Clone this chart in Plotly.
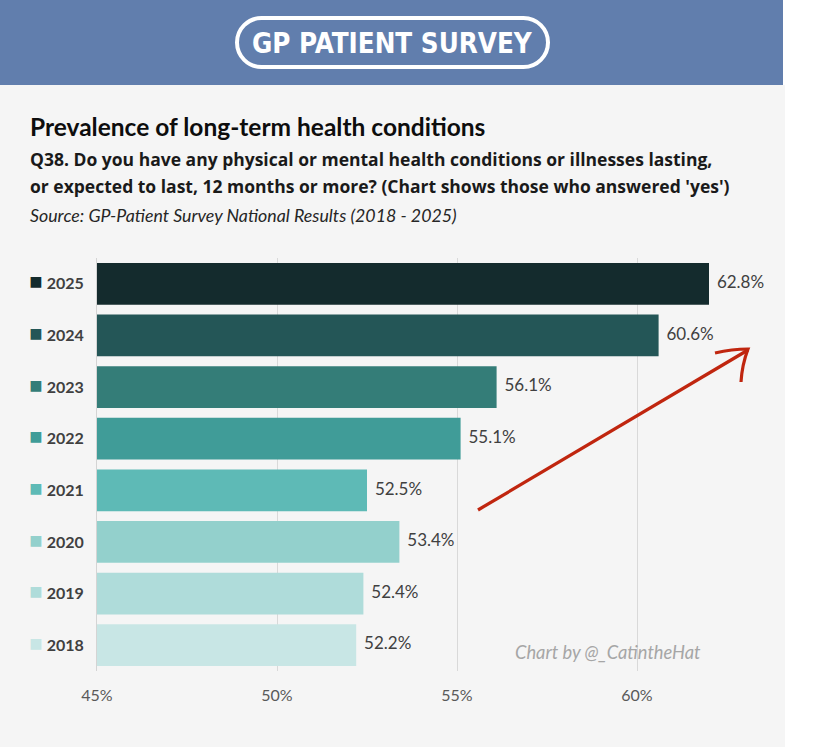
import numpy as np
import plotly.graph_objects as go

# ---- data ----
years = ["2018", "2019", "2020", "2021", "2022", "2023", "2024", "2025"]
values = [52.2, 52.4, 53.4, 52.5, 55.1, 56.1, 60.6, 62.8]
bar_colors = ["#c8e6e5", "#afdcda", "#93d0cc", "#5ebab6",
              "#409c98", "#347d78", "#245657", "#142b2d"]
x_ticks = [45, 50, 55, 60]
x_ticklabels = ["45%", "50%", "55%", "60%"]
X_MIN, X_MAX = 45, 62

labels = [f"{v:.1f}%" for v in values]

# ---- layout geometry (pixels) ----
W, H = 819, 747
ML, MR, MT, MB = 97, 110, 258, 76
PW = W - ML - MR
PH = H - MT - MB


def fx(px):
    return (px - ML) / PW


def fy(py):
    return (H - MB - py) / PH


fig = go.Figure()

fig.add_trace(go.Bar(
    x=values, y=years, orientation="h",
    marker=dict(color=bar_colors, line=dict(width=0)),
    hoverinfo="skip", showlegend=False,
))

fig.add_trace(go.Scatter(
    x=np.minimum(values, X_MAX), y=years,
    mode="markers+text", text=labels, textposition="middle right",
    marker=dict(size=11, opacity=0),
    textfont=dict(family="Lato, Open Sans, sans-serif", size=17, color="#404040"),
    cliponaxis=False, hoverinfo="skip", showlegend=False,
))

ticktext = [f'<span style="color:{c};font-size:22px">■</span> <b>{y}</b>'
            for y, c in zip(years, bar_colors)]

fig.update_layout(
    width=W, height=H,
    margin=dict(l=ML, r=MR, t=MT, b=MB, pad=0),
    paper_bgcolor="white",
    plot_bgcolor="rgba(0,0,0,0)",
    bargap=0.19,
    xaxis=dict(
        range=[X_MIN, X_MAX], tickvals=x_ticks, ticktext=x_ticklabels,
        showgrid=True, gridcolor="#d9d9d9", gridwidth=1, zeroline=False,
        ticks="outside", ticklen=10, tickcolor="rgba(0,0,0,0)",
        tickfont=dict(family="Lato, Open Sans, sans-serif", size=16, color="#595959"),
        fixedrange=True,
    ),
    yaxis=dict(
        categoryorder="array", categoryarray=years,
        range=[-0.5, len(years) - 0.5],
        tickvals=years, ticktext=ticktext,
        showline=True, linecolor="#d4d4d4", linewidth=1,
        showgrid=False, zeroline=False,
        ticks="outside", ticklen=9, tickcolor="rgba(0,0,0,0)",
        tickfont=dict(family="Lato, Open Sans, sans-serif", size=16, color="#404040"),
        fixedrange=True,
    ),
)

# ---- background panels ----
shapes = [
    dict(type="rect", xref="paper", yref="paper", layer="below",
         x0=fx(0), x1=fx(785), y0=fy(85), y1=fy(H), fillcolor="#f5f5f5",
         line=dict(width=0)),
    dict(type="rect", xref="paper", yref="paper", layer="below",
         x0=fx(0), x1=fx(783), y0=fy(0), y1=fy(85), fillcolor="#617ead",
         line=dict(width=0)),
]

# logo pill outline
L, R, T, B = 237, 548, 18, 67
r = (B - T) / 2
cy = (T + B) / 2
k = 0.5523 * r


def P(x, y):
    return f"{fx(x):.5f},{fy(y):.5f}"


pill = (f"M{P(L + r, T)} L{P(R - r, T)} "
        f"C{P(R - r + k, T)} {P(R, cy - k)} {P(R, cy)} "
        f"C{P(R, cy + k)} {P(R - r + k, B)} {P(R - r, B)} "
        f"L{P(L + r, B)} "
        f"C{P(L + r - k, B)} {P(L, cy + k)} {P(L, cy)} "
        f"C{P(L, cy - k)} {P(L + r - k, T)} {P(L + r, T)} Z")
shapes.append(dict(type="path", xref="paper", yref="paper", path=pill,
                   line=dict(color="white", width=4)))

# red hand-drawn arrow
red = "#c0260f"
shapes.append(dict(type="path", xref="paper", yref="paper",
                   path=f"M{P(478, 510)} Q{P(610, 432)} {P(748, 350)}",
                   line=dict(color=red, width=3.2)))
shapes.append(dict(type="path", xref="paper", yref="paper",
                   path=f"M{P(715, 353)} Q{P(732, 349)} {P(748, 349)} "
                        f"Q{P(742, 365)} {P(741, 382)}",
                   line=dict(color=red, width=3.2)))
fig.update_layout(shapes=shapes)

# ---- text annotations ----
ann = []
ann.append(dict(text="GP PATIENT SURVEY", x=fx(392), y=fy(43),
                xref="paper", yref="paper", showarrow=False,
                xanchor="center", yanchor="middle",
                font=dict(family="Liberation Sans Narrow, DejaVu Sans Condensed, Liberation Sans",
                          size=27.5, color="white", weight="bold")))
ann.append(dict(text="<b>Prevalence of long-term health conditions</b>",
                x=fx(28), y=fy(126), xref="paper", yref="paper", showarrow=False,
                xanchor="left", yanchor="middle",
                font=dict(family="Lato, Open Sans, sans-serif", size=24.5, color="#0d0d0d")))
ann.append(dict(text="<b>Q38. Do you have any physical or mental health conditions or illnesses lasting,</b>",
                x=fx(28), y=fy(159), xref="paper", yref="paper", showarrow=False,
                xanchor="left", yanchor="middle",
                font=dict(family="Open Sans, Lato, sans-serif", size=17.5, color="#1a1a1a")))
ann.append(dict(text="<b>or expected to last, 12 months or more? (Chart shows those who answered 'yes')</b>",
                x=fx(28), y=fy(186), xref="paper", yref="paper", showarrow=False,
                xanchor="left", yanchor="middle",
                font=dict(family="Open Sans, Lato, sans-serif", size=17.5, color="#1a1a1a")))
ann.append(dict(text="<i>Source: GP-Patient Survey National Results (2018 - 2025)</i>",
                x=fx(28), y=fy(215), xref="paper", yref="paper", showarrow=False,
                xanchor="left", yanchor="middle",
                font=dict(family="Lato, Open Sans, sans-serif", size=17.8, color="#262626")))
ann.append(dict(text="<i>Chart by @_CatintheHat</i>",
                x=fx(513), y=fy(652), xref="paper", yref="paper", showarrow=False,
                xanchor="left", yanchor="middle",
                font=dict(family="Lato, Open Sans, sans-serif", size=18.3, color="#a6a6a6")))
fig.update_layout(annotations=ann)

fig.write_html("out.html", config={"displayModeBar": False},
               post_script="document.body.style.margin='0';")
